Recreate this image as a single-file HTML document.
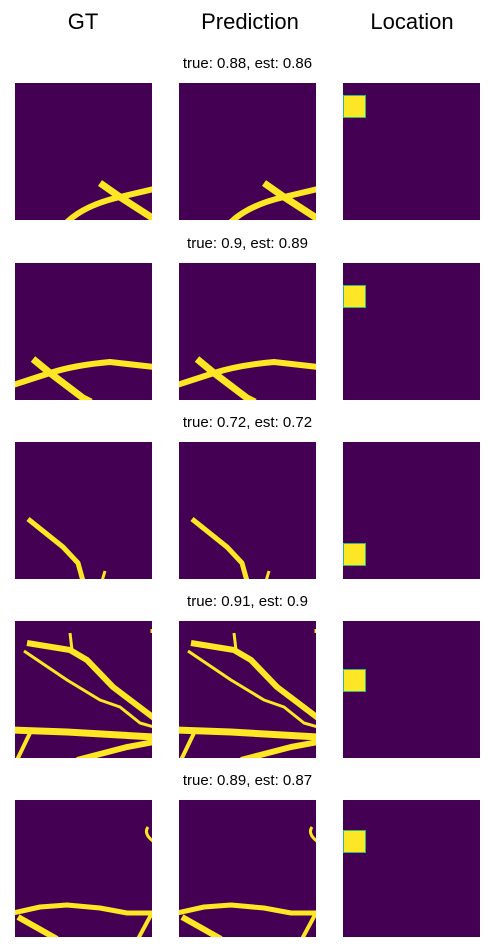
<!DOCTYPE html>
<html><head><meta charset="utf-8"><style>
body{margin:0;background:#fff;width:495px;height:952px;position:relative;overflow:hidden;font-family:"Liberation Sans","DejaVu Sans",sans-serif}
.h{position:absolute;top:9px;font-size:22px;text-align:center;width:160px}
.t{position:absolute;left:0;width:495px;text-align:center;font-size:15px}
svg.p{position:absolute;width:137px;height:137px}
</style></head><body>
<svg width="0" height="0" style="position:absolute">
<defs>
<g id="v1"><path d="M52,139 Q70,122 105,114 L139,106" stroke-width="6"/><path d="M85,100 L105,114 L139,136" stroke-width="7"/></g>
<g id="v2"><path d="M18,96 L35,110 L68,135 L76,139" stroke-width="7"/><path d="M-2,122 L35,110 Q60,102 95,99 L139,104" stroke-width="6"/></g>
<g id="v3"><path d="M13,77 L48,105 L63,121 L68,139" stroke-width="5"/><path d="M87,139 L90,129" stroke-width="3"/></g>
<g id="v4"><path d="M12,22 L55,29 L72,39 L98,66 L139,97" stroke-width="6"/><path d="M55,12 L57,29" stroke-width="3"/><path d="M9,30 L52,59 L85,79 L105,86 L125,102 L139,106" stroke-width="3"/><path d="M-2,109 L52,111 L139,116" stroke-width="7"/><path d="M15,112 L2,139" stroke-width="4"/><path d="M62,139 L112,126 L139,121" stroke-width="6"/><path d="M137,8 L137,12" stroke-width="3"/></g>
<g id="v5"><path d="M-2,113 L25,107 L52,105 L85,108 L112,113 L139,113" stroke-width="5"/><path d="M3,117 L42,139" stroke-width="6"/><path d="M137,113 L123,139" stroke-width="4"/><path d="M133,27 Q128,34 139,42" stroke-width="3"/></g>
</defs></svg>
<div class="h" style="left:3px">GT</div>
<div class="h" style="left:170px">Prediction</div>
<div class="h" style="left:332px">Location</div>
<div id="root"></div>
<script>
const titles=["true: 0.88, est: 0.86","true: 0.9, est: 0.89","true: 0.72, est: 0.72","true: 0.91, est: 0.9","true: 0.89, est: 0.87"];
const rowTops=[83,263,442,621,800];
const locY=[12,22,101,48,30];
const cols=[15,179,343];
let html='';
rowTops.forEach((top,i)=>{
 html+=`<div class="t" style="top:${top-28}px">${titles[i]}</div>`;
 for(let c=0;c<2;c++){
  html+=`<svg class="p" viewBox="0 0 137 137" style="left:${cols[c]}px;top:${top}px"><rect width="137" height="137" fill="#440154"/><g fill="none" stroke="#fde725" stroke-linejoin="round"><use href="#v${i+1}"/></g></svg>`;
 }
 html+=`<svg class="p" viewBox="0 0 137 137" style="left:${cols[2]}px;top:${top}px"><rect width="137" height="137" fill="#440154"/><rect x="0.5" y="${locY[i]+0.5}" width="22" height="22" fill="#fde725" stroke="#35b779" stroke-width="1"/></svg>`;
});
document.getElementById('root').innerHTML=html;
</script>
</body></html>
